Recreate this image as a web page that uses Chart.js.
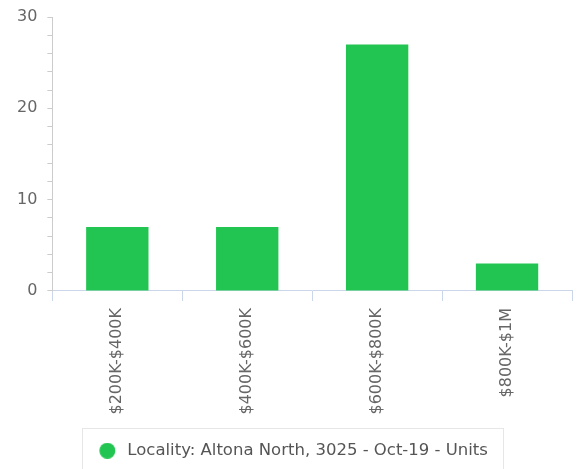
<!DOCTYPE html>
<html>
<head>
<meta charset="utf-8">
<script src="https://cdn.jsdelivr.net/npm/chart.js@4.4.0/dist/chart.umd.min.js"></script>
<style>
    html, body { margin: 0; padding: 0; background: #fff; }
    #wrap { width: 581px; height: 469px; }
</style>
</head>
<body>
<div id="wrap"><canvas id="myChart"></canvas></div>
<script>
let categories = ['$200K-$400K', '$400K-$600K', '$600K-$800K', '$800K-$1M'];
let units = [7, 7, 27, 3];
let series_name = 'Locality: Altona North, 3025 - Oct-19 - Units';
let y_min = 0;
let y_max = 30;
let bar_color = '#23c552';

// legend marker: a round dot with some empty room on its right, so the text sits further off
function make_dot() {
    let c = document.createElement('canvas');
    c.width = 30;
    c.height = 16;
    let g = c.getContext('2d');
    g.fillStyle = bar_color;
    g.beginPath();
    g.arc(11.25, 8, 8, 0, Math.PI * 2);
    g.fill();
    return c;
}

// box round the legend, like the original chart has
const legendBorder = {
    id: 'legendBorder',
    afterLayout(chart) {
        // nudge the legend a bit to the right
        if (chart.legend) {
            chart.legend.left += 6;
            chart.legend.right += 6;
        }
    },
    afterDraw(chart) {
        let lg = chart.legend;
        if (!lg || !lg.legendHitBoxes || !lg.legendHitBoxes.length) return;
        let hb = lg.legendHitBoxes[0];
        let ctx = chart.ctx;
        ctx.save();
        ctx.strokeStyle = '#e6e6e6';
        ctx.lineWidth = 1;
        ctx.strokeRect(Math.round(hb.left) - 20.5, Math.round(hb.top + hb.height / 2) - 22.5,
            Math.round(hb.width) + 36, 60);
        ctx.restore();
    }
};

var ctx = document.getElementById('myChart');
var chart = new Chart(ctx, {
    type: 'bar',
    data: {
        labels: categories,
        datasets: [
            {
                label: series_name,
                data: units,
                backgroundColor: bar_color,
                borderWidth: 0,
                barPercentage: 0.48,
                categoryPercentage: 1
            }
        ]
    },
    options: {
        responsive: true,
        maintainAspectRatio: false,
        animation: false,
        layout: { padding: { left: 7, right: 9, top: 0, bottom: 0 } },
        scales: {
            x: {
                grid: {
                    offset: true,
                    drawOnChartArea: false,
                    drawTicks: true,
                    tickLength: 10,
                    color: '#ccd6eb'
                },
                border: { color: '#ccd6eb' },
                ticks: {
                    minRotation: 90,
                    maxRotation: 90,
                    padding: 7,
                    color: '#666',
                    font: { family: 'DejaVu Sans', size: 16 }
                },
                afterFit: function (scale) { scale.height += 7; }
            },
            y: {
                min: y_min,
                max: y_max,
                grid: {
                    drawOnChartArea: false,
                    drawTicks: true,
                    tickLength: 5,
                    color: '#ccc'
                },
                border: { color: '#ccc' },
                ticks: {
                    stepSize: 2,
                    autoSkip: false,
                    padding: 10,
                    color: '#666',
                    font: { family: 'DejaVu Sans', size: 16 },
                    callback: function (v) { return v % 10 === 0 ? v : ''; }
                },
                // keep the top of the axis close to the edge, like the original
                afterFit: function (scale) { scale.paddingTop = 17; }
            }
        },
        plugins: {
            legend: {
                position: 'bottom',
                labels: {
                    usePointStyle: true,
                    pointStyle: make_dot(),
                    boxWidth: 16,
                    boxHeight: 16,
                    padding: 14,
                    color: '#555',
                    font: { family: 'DejaVu Sans', size: 16.5 }
                }
            },
            tooltip: { enabled: false }
        }
    },
    plugins: [legendBorder]
});
</script>
</body>
</html>
